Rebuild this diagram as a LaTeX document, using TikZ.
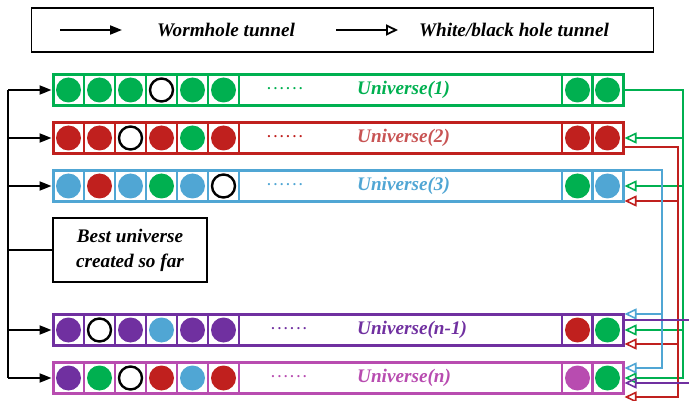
\documentclass[tikz,border=0pt]{standalone}
\usepackage{fontspec}
\setmainfont{Liberation Serif}
\usetikzlibrary{arrows.meta}
\definecolor{ugreen}{RGB}{0,176,80}
\definecolor{ured}{RGB}{192,32,30}
\definecolor{uredtext}{RGB}{200,84,84}
\definecolor{ublue}{RGB}{80,166,212}
\definecolor{upurple}{RGB}{112,48,160}
\definecolor{upink}{RGB}{184,76,176}
\begin{document}
\begin{tikzpicture}[x=1pt,y=-1pt,%
% common options for the universe bars:
bar/.style = {draw=#1, line width=3pt, minimum width=570, minimum height=31, inner sep=0},
% common options for the cells and balls:
cell/.style = {draw=#1, line width=1.5pt, minimum width=31, minimum height=31, inner sep=0},
ball/.style = {path picture={\fill[#1] (path picture bounding box.center) circle (12.5pt);}},
hole/.style = {path picture={\draw[black, line width=2.4pt] (path picture bounding box.center) circle (11.5pt);}},
% common options for the texts:
label/.style = {text=#1, font=\fontsize{19.2}{25}\selectfont\bfseries\itshape, inner sep=0},
dots/.style = {text=#1, font=\fontsize{13.5}{13}\selectfont\bfseries\addfontfeature{LetterSpace=22}, inner sep=0},
% common options for the tunnels:
wormhole/.style = {-{Triangle[length=12pt,width=9pt]}, line width=2pt},
whitehole/.style = {-{Triangle[open,length=12pt,width=11pt]}, line width=1.6pt, draw=#1}]
\useasboundingbox (0,0) rectangle (689,401);
% legend
\node[draw, line width=1.5pt, minimum width=622, minimum height=44] (L0) at (342.5,30) {};
\coordinate (L1a) at (60,30);
\coordinate (L1b) at (122,30);
\coordinate (L2a) at (336,30);
\coordinate (L2b) at (398,30);
\node[label=black] (L1) at (226,30) {Wormhole tunnel};
\node[label=black] (L2) at (514,30) {White/black hole tunnel};
\draw[wormhole] (L1a) -- (L1b);
\draw[whitehole=black, line width=1.8pt] (L2a) -- (L2b);
% Universe(1)
\node[bar=ugreen] (U1) at (338,90) {};
\node[cell=ugreen, ball=ugreen] (C11) at (68.5,90) {};
\node[cell=ugreen, ball=ugreen] (C12) at (99.5,90) {};
\node[cell=ugreen, ball=ugreen] (C13) at (130.5,90) {};
\node[cell=ugreen, hole] (C14) at (161.5,90) {};
\node[cell=ugreen, ball=ugreen] (C15) at (192.5,90) {};
\node[cell=ugreen, ball=ugreen] (C16) at (223.5,90) {};
\node[cell=ugreen, ball=ugreen] (C17) at (577.5,90) {};
\node[cell=ugreen, ball=ugreen] (C18) at (607.5,90) {};
\node[dots=ugreen] (D1) at (285,89) {......};
\node[label=ugreen, anchor=west] (T1) at (357,90) {Universe(1)};
% Universe(2)
\node[bar=ured] (U2) at (338,138) {};
\node[cell=ured, ball=ured] (C21) at (68.5,138) {};
\node[cell=ured, ball=ured] (C22) at (99.5,138) {};
\node[cell=ured, hole] (C23) at (130.5,138) {};
\node[cell=ured, ball=ured] (C24) at (161.5,138) {};
\node[cell=ured, ball=ugreen] (C25) at (192.5,138) {};
\node[cell=ured, ball=ured] (C26) at (223.5,138) {};
\node[cell=ured, ball=ured] (C27) at (577.5,138) {};
\node[cell=ured, ball=ured] (C28) at (607.5,138) {};
\node[dots=ured] (D2) at (285,137) {......};
\node[label=uredtext, anchor=west] (T2) at (357,138) {Universe(2)};
% Universe(3)
\node[bar=ublue] (U3) at (338,186) {};
\node[cell=ublue, ball=ublue] (C31) at (68.5,186) {};
\node[cell=ublue, ball=ured] (C32) at (99.5,186) {};
\node[cell=ublue, ball=ublue] (C33) at (130.5,186) {};
\node[cell=ublue, ball=ugreen] (C34) at (161.5,186) {};
\node[cell=ublue, ball=ublue] (C35) at (192.5,186) {};
\node[cell=ublue, hole] (C36) at (223.5,186) {};
\node[cell=ublue, ball=ugreen] (C37) at (577.5,186) {};
\node[cell=ublue, ball=ublue] (C38) at (607.5,186) {};
\node[dots=ublue] (D3) at (285,185) {......};
\node[label=ublue, anchor=west] (T3) at (357,186) {Universe(3)};
% Universe(n-1)
\node[bar=upurple] (U4) at (338,330) {};
\node[cell=upurple, ball=upurple] (C41) at (68.5,330) {};
\node[cell=upurple, hole] (C42) at (99.5,330) {};
\node[cell=upurple, ball=upurple] (C43) at (130.5,330) {};
\node[cell=upurple, ball=ublue] (C44) at (161.5,330) {};
\node[cell=upurple, ball=upurple] (C45) at (192.5,330) {};
\node[cell=upurple, ball=upurple] (C46) at (223.5,330) {};
\node[cell=upurple, ball=ured] (C47) at (577.5,330) {};
\node[cell=upurple, ball=ugreen] (C48) at (607.5,330) {};
\node[dots=upurple] (D4) at (289,329) {......};
\node[label=upurple, anchor=west] (T4) at (357,330) {Universe(n-1)};
% Universe(n)
\node[bar=upink] (U5) at (338,378) {};
\node[cell=upink, ball=upurple] (C51) at (68.5,378) {};
\node[cell=upink, ball=ugreen] (C52) at (99.5,378) {};
\node[cell=upink, hole] (C53) at (130.5,378) {};
\node[cell=upink, ball=ured] (C54) at (161.5,378) {};
\node[cell=upink, ball=ublue] (C55) at (192.5,378) {};
\node[cell=upink, ball=ured] (C56) at (223.5,378) {};
\node[cell=upink, ball=upink] (C57) at (577.5,378) {};
\node[cell=upink, ball=ugreen] (C58) at (607.5,378) {};
\node[dots=upink] (D5) at (289,377) {......};
\node[label=upink, anchor=west] (T5) at (357,378) {Universe(n)};
% best universe
\node[draw, line width=2pt, minimum width=154, minimum height=64, align=center,
      font=\fontsize{19.2}{25}\selectfont\bfseries\itshape] (best) at (130,250) {Best universe\\created so far};
% wormholes
\coordinate (lx) at (8,0);
\draw[line width=2pt] (lx |- U1.west) -- (lx |- U5.west);
\draw[line width=2pt] (lx |- best.west) -- (best.west);
\draw[wormhole] (lx |- U1.west) -- (U1.west);
\draw[wormhole] (lx |- U2.west) -- (U2.west);
\draw[wormhole] (lx |- U3.west) -- (U3.west);
\draw[wormhole] (lx |- U4.west) -- (U4.west);
\draw[wormhole] (lx |- U5.west) -- (U5.west);
% white/black hole tunnels
\coordinate (gx) at (683,0);
\coordinate (rx) at (678,0);
\coordinate (bx) at (662,0);
\coordinate (px) at (689,0);
\coordinate (r2) at ([yshift=8pt]U2.south east);
\coordinate (r3) at ([yshift=2pt]U3.south east);
\coordinate (r4) at ([yshift=3pt]U4.south east);
\coordinate (r5) at ([yshift=-2pt]U5.south east);
\coordinate (b3) at ([yshift=-1pt]U3.north east);
\coordinate (b4) at ([yshift=-1pt]U4.north east);
\coordinate (b5) at ([yshift=-7pt]U5.north east);
\coordinate (p4) at ([yshift=-7pt]U4.north east);
\coordinate (p5) at ([yshift=-5pt]U5.east);
\draw[whitehole=ugreen] (U1.east) -| (gx |- U5.east) -- (U5.east);
\draw[whitehole=ugreen] (gx |- U2.east) -- (U2.east);
\draw[whitehole=ugreen] (gx |- U3.east) -- (U3.east);
\draw[whitehole=ugreen] (gx |- U4.east) -- (U4.east);
\draw[whitehole=ured] (r2) -| (rx |- r5) -- (r5);
\draw[whitehole=ured] (rx |- r3) -- (r3);
\draw[whitehole=ured] (rx |- r4) -- (r4);
\draw[whitehole=ublue] (b3) -| (bx |- b5) -- (b5);
\draw[whitehole=ublue] (bx |- b4) -- (b4);
\draw[upurple, line width=1.6pt] (p4) -- (px |- p4);
\draw[whitehole=upurple] (px |- p5) -- (p5);
\end{tikzpicture}
\end{document}
